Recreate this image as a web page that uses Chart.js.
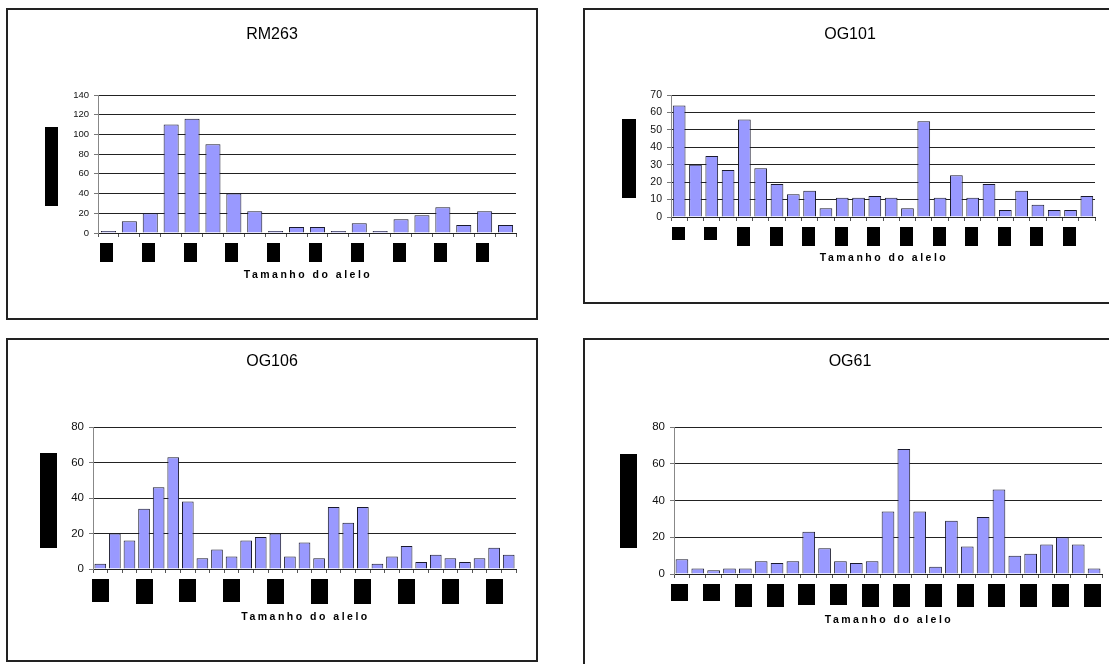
<!DOCTYPE html>
<html>
<head>
<meta charset="utf-8">
<script src="https://cdn.jsdelivr.net/npm/chart.js@4.4.1/dist/chart.umd.min.js"></script>
<style>
body { margin: 0; background: #fff; }
#page { position: relative; width: 1109px; height: 664px; overflow: hidden; background: #fff; }
.frame { position: absolute; border: 2px solid #222; box-sizing: border-box; }
canvas { position: absolute; left: 0; top: 0; }
</style>
</head>
<body>
<div id="page">
  <div class="frame" style="left:6px;top:8px;width:532px;height:312px"></div>
  <div class="frame" style="left:583px;top:8px;width:540px;height:296px"></div>
  <div class="frame" style="left:6px;top:338px;width:532px;height:324px"></div>
  <div class="frame" style="left:583px;top:338px;width:540px;height:340px"></div>
  <canvas id="chart1" width="1109" height="664"></canvas>
  <canvas id="chart2" width="1109" height="664"></canvas>
  <canvas id="chart3" width="1109" height="664"></canvas>
  <canvas id="chart4" width="1109" height="664"></canvas>
</div>
<script>
// values (allele size labels are blacked out in the source)
const rm263Values = [2, 12, 20, 110, 116, 90, 40, 22, 2, 6, 6, 2, 10, 2, 14, 18, 26, 8, 22, 8];
const og101Values = [64, 30, 35, 27, 56, 28, 19, 13, 15, 5, 11, 11, 12, 11, 5, 55, 11, 24, 11, 19, 4, 15, 7, 4, 4, 12];
const og106Values = [3, 20, 16, 34, 46, 63, 38, 6, 11, 7, 16, 18, 20, 7, 15, 6, 35, 26, 35, 3, 7, 13, 4, 8, 6, 4, 6, 12, 8];
const og61Values = [8, 3, 2, 3, 3, 7, 6, 7, 23, 14, 7, 6, 7, 34, 68, 34, 4, 29, 15, 31, 46, 10, 11, 16, 20, 16, 3];

const rm263Labels = rm263Values.map((v, i) => String(i + 1));
const og101Labels = og101Values.map((v, i) => String(i + 1));
const og106Labels = og106Values.map((v, i) => String(i + 1));
const og61Labels = og61Values.map((v, i) => String(i + 1));

const xTitle = 'Tamanho do alelo';
const FONT = '"Liberation Sans", Arial, sans-serif';

// titles, axis title and the black redaction boxes
const decoPlugin = {
  id: 'deco',
  afterDraw(chart, args, o) {
    const ctx = chart.ctx;
    const x = chart.scales.x;
    const a = chart.chartArea;
    ctx.save();
    ctx.fillStyle = '#000';
    ctx.textAlign = 'center';
    ctx.textBaseline = 'middle';
    ctx.font = '16px ' + FONT;
    ctx.fillText(o.title, o.titleX, o.titleY);
    ctx.font = 'bold 10.5px ' + FONT;
    ctx.letterSpacing = '2.5px';
    ctx.fillText(xTitle, (a.left + a.right) / 2 + 1, o.xTitleY);
    ctx.letterSpacing = '0px';
    ctx.fillRect(o.yBox[0], o.yBox[1], o.yBox[2], o.yBox[3]);
    o.boxH.forEach((h, k) => {
      const px = x.getPixelForValue(k * o.every) + o.boxDx;
      ctx.fillRect(Math.round(px - o.boxW / 2), o.boxTop, o.boxW, h);
    });
    ctx.restore();
  }
};

function makeChart(id, labels, values, area, yMax, yStep, fontSize, barPct, deco) {
  return new Chart(document.getElementById(id), {
    type: 'bar',
    data: {
      labels: labels,
      datasets: [{
        data: values,
        backgroundColor: '#9999FF',
        borderColor: '#1a1a2e',
        borderWidth: 1,
        barPercentage: barPct,
        categoryPercentage: 1.0
      }]
    },
    options: {
      responsive: false,
      animation: false,
      events: [],
      layout: {
        padding: { left: area[0] - 40, top: area[1], right: 1109 - area[2], bottom: 664 - area[3] - 5 }
      },
      scales: {
        x: {
          afterFit(s) { s.height = 5; },
          ticks: { display: false },
          grid: { drawOnChartArea: false, drawTicks: true, tickLength: 4, color: '#555', offset: true },
          border: { color: '#222' }
        },
        y: {
          min: 0,
          max: yMax,
          afterFit(s) { s.width = 40; },
          ticks: { stepSize: yStep, padding: 5, color: '#111', font: { family: FONT, size: fontSize } },
          grid: { color: '#222', tickColor: '#777', tickLength: 4 },
          border: { color: '#888' }
        }
      },
      plugins: {
        legend: { display: false },
        tooltip: { enabled: false },
        deco: deco
      }
    },
    plugins: [decoPlugin]
  });
}

// RM263
makeChart('chart1', rm263Labels, rm263Values, [98, 95, 516, 233], 140, 20, 9.5, 0.72, {
  title: 'RM263', titleX: 272, titleY: 35, xTitleY: 275,
  yBox: [45, 127, 13, 79],
  every: 2, boxTop: 243, boxW: 13, boxDx: -2,
  boxH: [19, 19, 19, 19, 19, 19, 19, 19, 19, 19]
});

// OG101
makeChart('chart2', og101Labels, og101Values, [671, 95, 1095, 217], 70, 10, 10.5, 0.78, {
  title: 'OG101', titleX: 850, titleY: 35, xTitleY: 258,
  yBox: [622, 119, 14, 79],
  every: 2, boxTop: 227, boxW: 13, boxDx: -1,
  boxH: [13, 13, 19, 19, 19, 19, 19, 19, 19, 19, 19, 19, 19]
});

// OG106
makeChart('chart3', og106Labels, og106Values, [93, 427, 516, 569], 80, 20, 11.5, 0.8, {
  title: 'OG106', titleX: 272, titleY: 362, xTitleY: 617,
  yBox: [40, 453, 17, 95],
  every: 3, boxTop: 579, boxW: 17, boxDx: 0,
  boxH: [23, 25, 23, 23, 25, 25, 25, 25, 25, 25]
});

// OG61
makeChart('chart4', og61Labels, og61Values, [674, 427, 1102, 574], 80, 20, 11.5, 0.8, {
  title: 'OG61', titleX: 850, titleY: 362, xTitleY: 620,
  yBox: [620, 454, 17, 94],
  every: 2, boxTop: 584, boxW: 17, boxDx: -2,
  boxH: [17, 17, 23, 23, 21, 21, 23, 23, 23, 23, 23, 23, 23, 23]
});
</script>
</body>
</html>
